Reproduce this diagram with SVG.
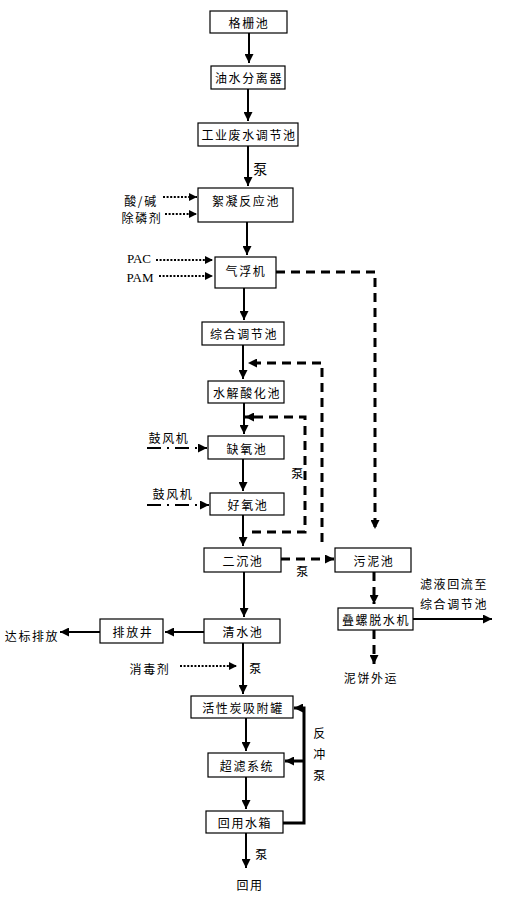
<svg xmlns="http://www.w3.org/2000/svg" width="509" height="897" viewBox="0 0 509 897">
<defs>
<marker id="ah" viewBox="0 0 10 10" refX="10" refY="5" markerWidth="9" markerHeight="9" markerUnits="userSpaceOnUse" orient="auto"><path d="M0,0 L10,5 L0,10 z" fill="#000"/></marker>
<marker id="ahs" viewBox="0 0 10 10" refX="10" refY="5" markerWidth="8" markerHeight="8" markerUnits="userSpaceOnUse" orient="auto"><path d="M0,0 L10,5 L0,10 z" fill="#000"/></marker>
</defs>
<style>
.box{fill:#fff;stroke:#000;stroke-width:1.2}
.t{font-family:"Noto Sans CJK SC","Liberation Sans",sans-serif;font-size:12px;letter-spacing:1.6px;fill:#000;text-anchor:middle;dominant-baseline:central}
.tl{font-family:"Liberation Serif","Noto Sans CJK SC",serif;font-size:13px;fill:#000;text-anchor:middle;dominant-baseline:central}
.s{fill:none;stroke:#000;stroke-width:2;marker-end:url(#ah)}
.d{fill:none;stroke:#000;stroke-width:2;stroke-dasharray:2,1.6;marker-end:url(#ahs)}
.dd{fill:none;stroke:#000;stroke-width:3;stroke-dasharray:9,6;marker-end:url(#ah)}
.dc{fill:none;stroke:#000;stroke-width:2.2;stroke-dasharray:14,6,2,6;marker-end:url(#ah)}
.b{fill:none;stroke:#000;stroke-width:3;marker-end:url(#ah)}
</style>
<g id="connectors">
<path class="s" d="M249,33 V63"/>
<path class="s" d="M248,89 V121"/>
<path class="s" d="M248,146 V186"/>
<path class="s" d="M247,222 V255"/>
<path class="s" d="M244,288 V320"/>
<path class="s" d="M243,345 V379"/>
<path class="s" d="M244,403 V434"/>
<path class="s" d="M243,459 V491"/>
<path class="s" d="M243,515 V546"/>
<path class="s" d="M244,572 V617"/>
<path class="s" d="M204,632 H165"/>
<path class="s" d="M100,632 H60"/>
<path class="s" d="M243,643 V694"/>
<path class="s" d="M246,718 V751"/>
<path class="s" d="M246,777 V809"/>
<path class="s" d="M246,833 V868"/>
<path class="s" d="M413,619 H492"/>
<path class="d" d="M163,197 H197"/>
<path class="d" d="M165,214 H197"/>
<path class="d" d="M156,260 H213"/>
<path class="d" d="M159,276 H213"/>
<path class="d" d="M180,666 H237"/>
<path class="dc" d="M147,448 H207"/>
<path class="dc" d="M147,505 H209"/>
<path class="dd" d="M276,272 H375 V529"/>
<path class="dd" d="M322,542 V363 H248"/>
<path class="dd" d="M252,532 H305 V417 H245"/>
<path class="dd" d="M281,559 H334"/>
<path class="dd" d="M374,572 V604"/>
<path class="dd" d="M374,630 V664"/>
<path class="b" d="M283,823 H304 V708 H294"/>
<path class="b" d="M304,761 H285"/>
</g>
<g id="n1"><rect class="box" x="210" y="11" width="77" height="22"/><text class="t" x="249" y="22">格栅池</text></g>
<g id="n2"><rect class="box" x="211" y="66" width="74" height="23"/><text class="t" x="249" y="77.5">油水分离器</text></g>
<g id="n3"><rect class="box" x="198" y="123" width="100" height="23"/><text class="t" x="249" y="134.5">工业废水调节池</text></g>
<g id="n4"><rect class="box" x="198" y="188" width="95" height="34"/><text class="t" x="246" y="200">絮凝反应池</text></g>
<g id="n5"><rect class="box" x="215" y="257" width="61" height="31"/><text class="t" x="246" y="270">气浮机</text></g>
<g id="n6"><rect class="box" x="202" y="322" width="82" height="23"/><text class="t" x="244" y="333.5">综合调节池</text></g>
<g id="n7"><rect class="box" x="208" y="381" width="76" height="22"/><text class="t" x="247" y="392">水解酸化池</text></g>
<g id="n8"><rect class="box" x="208" y="436" width="76" height="23"/><text class="t" x="247" y="448">缺氧池</text></g>
<g id="n9"><rect class="box" x="210" y="493" width="74" height="22"/><text class="t" x="248" y="504">好氧池</text></g>
<g id="n10"><rect class="box" x="204" y="548" width="77" height="24"/><text class="t" x="243" y="560">二沉池</text></g>
<g id="n11"><rect class="box" x="335" y="548" width="76" height="24"/><text class="t" x="374" y="560">污泥池</text></g>
<g id="n12"><rect class="box" x="204" y="619" width="76" height="24"/><text class="t" x="243" y="631">清水池</text></g>
<g id="n13"><rect class="box" x="100" y="619" width="63" height="24"/><text class="t" x="133" y="631">排放井</text></g>
<g id="n14"><rect class="box" x="338" y="608" width="75" height="22"/><text class="t" x="376" y="619">叠螺脱水机</text></g>
<g id="n15"><rect class="box" x="191" y="696" width="102" height="22"/><text class="t" x="243" y="707">活性炭吸附罐</text></g>
<g id="n16"><rect class="box" x="208" y="753" width="76" height="24"/><text class="t" x="247" y="765">超滤系统</text></g>
<g id="n17"><rect class="box" x="206" y="811" width="77" height="22"/><text class="t" x="245" y="822">回用水箱</text></g>
<g id="labels">
<text class="t" x="261" y="168" style="font-size:14px">泵</text>
<text class="t" x="141" y="200">酸/碱</text>
<text class="t" x="142" y="217">除磷剂</text>
<text class="tl" x="139" y="258">PAC</text>
<text class="tl" x="140" y="277">PAM</text>
<text class="t" x="169" y="437">鼓风机</text>
<text class="t" x="173" y="493">鼓风机</text>
<text class="t" x="298" y="472">泵</text>
<text class="t" x="303" y="570">泵</text>
<text class="t" x="32" y="635">达标排放</text>
<text class="t" x="150" y="668">消毒剂</text>
<text class="t" x="256" y="667">泵</text>
<text class="t" x="454" y="583">滤液回流至</text>
<text class="t" x="454" y="603">综合调节池</text>
<text class="t" x="371" y="677">泥饼外运</text>
<text class="t" x="320" y="732">反</text>
<text class="t" x="320" y="753">冲</text>
<text class="t" x="320" y="774">泵</text>
<text class="t" x="262" y="853">泵</text>
<text class="t" x="250" y="884">回用</text>
</g>
</svg>
